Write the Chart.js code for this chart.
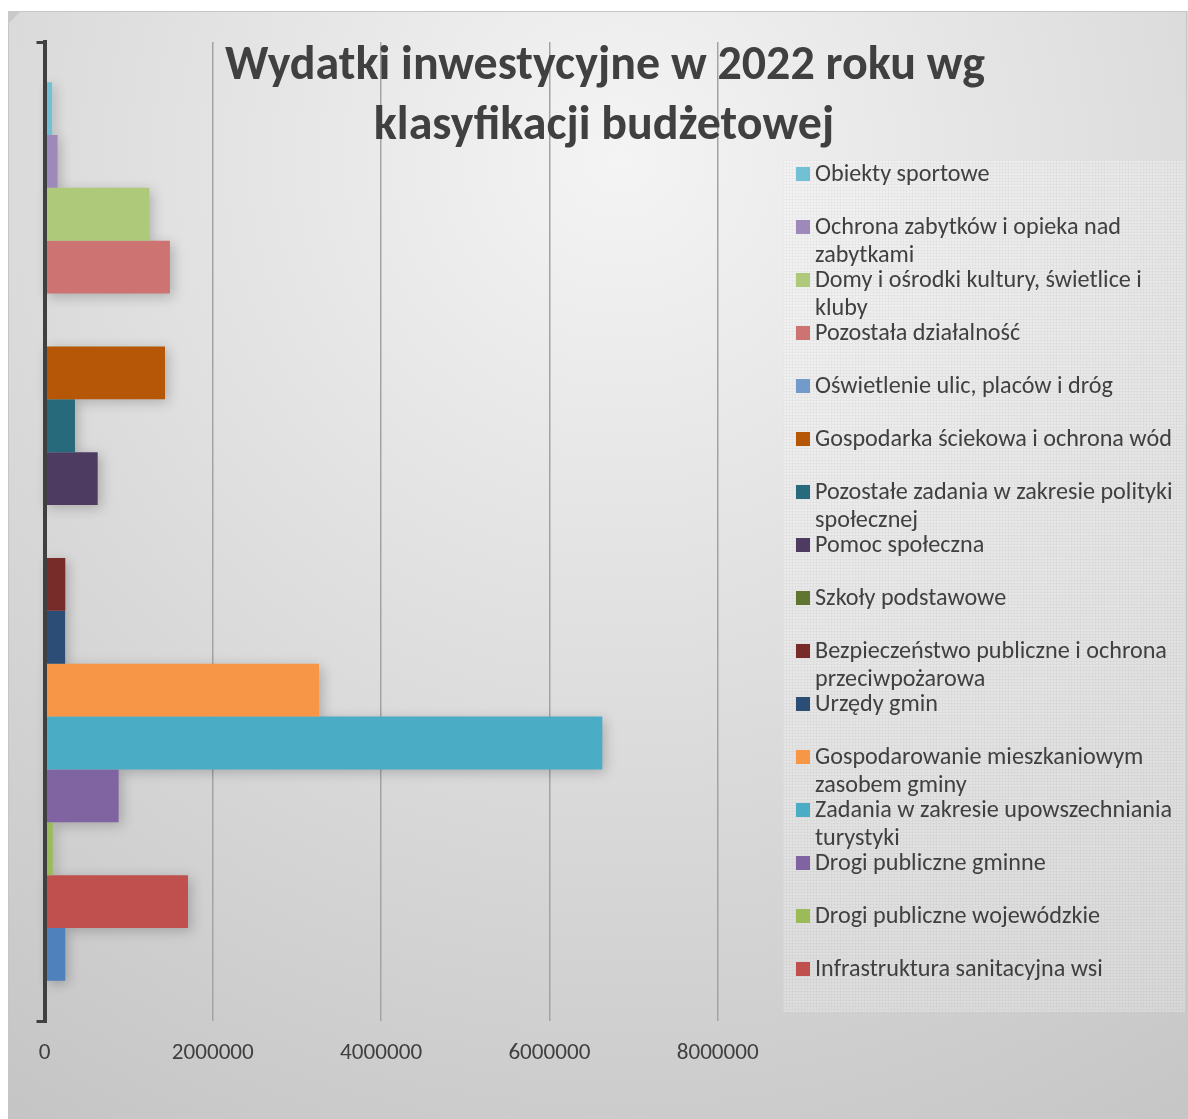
<!DOCTYPE html>
<html>
<head>
<meta charset="utf-8">
<script src="https://cdn.jsdelivr.net/npm/chart.js@4.4.1/dist/chart.umd.min.js"></script>
<style>
html, body { margin: 0; padding: 0; background: #fff; }
canvas { display: block; }
</style>
</head>
<body>
<canvas id="wykres" width="1188" height="1119"></canvas>
<script>
// Dane: pozycje klasyfikacji budżetowej (od góry wykresu w dół)
const categories = ['2022'];
const seriesNames = [
    'Obiekty sportowe',
    'Ochrona zabytków i opieka nad zabytkami',
    'Domy i ośrodki kultury, świetlice i kluby',
    'Pozostała działalność',
    'Oświetlenie ulic, placów i dróg',
    'Gospodarka ściekowa i ochrona wód',
    'Pozostałe zadania w zakresie polityki społecznej',
    'Pomoc społeczna',
    'Szkoły podstawowe',
    'Bezpieczeństwo publiczne i ochrona przeciwpożarowa',
    'Urzędy gmin',
    'Gospodarowanie mieszkaniowym zasobem gminy',
    'Zadania w zakresie upowszechniania turystyki',
    'Drogi publiczne gminne',
    'Drogi publiczne wojewódzkie',
    'Infrastruktura sanitacyjna wsi',
    'Infrastruktura wodociągowa wsi'
];
const seriesValues = [
    90000, 155000, 1245000, 1490000, 0, 1432000, 362000, 632000, 0,
    247000, 245000, 3262000, 6629000, 881000, 97000, 1705000, 247000
];
const seriesColors = [
    '#71C0D3', '#9E89BB', '#AFC97A', '#CD7371', '#729ACA', '#B65708',
    '#276A7C', '#4D3B62', '#5F7530', '#772C2A', '#2C4D75', '#F79646',
    '#4BACC6', '#8064A2', '#9BBB59', '#C0504D', '#4F81BD'
];
const legendCount = 16; // ostatnia seria nie zmieściła się w legendzie
const xTickValues = [0, 2000000, 4000000, 6000000, 8000000];
const titleLines = ['Wydatki inwestycyjne w 2022 roku wg', 'klasyfikacji budżetowej'];

const FONT = 'Carlito, Lato, sans-serif';
const TEXT_COLOR = '#404040';

// dobór rozmiaru czcionki tak, aby szerokość tekstu pasowała do oryginału
const measureCtx = document.createElement('canvas').getContext('2d');
function fitSize(text, weight, targetWidth) {
    measureCtx.font = weight + ' 100px ' + FONT;
    return 100 * targetWidth / measureCtx.measureText(text).width;
}
const tickSize = fitSize('2000000', 'normal', 82);
const legendSize = fitSize('Gospodarka ściekowa i ochrona wód', 'normal', 357);
const titleSize = fitSize(titleLines[0], 'bold', 760);

function wrapText(ctx, text, maxWidth) {
    const words = text.split(' ');
    const lines = [];
    let line = '';
    words.forEach(function (w) {
        const test = line ? line + ' ' + w : w;
        if (line && ctx.measureText(test).width > maxWidth) {
            lines.push(line);
            line = w;
        } else {
            line = test;
        }
    });
    lines.push(line);
    return lines;
}

// tło wykresu (gradient jak w Excelu)
const backgroundPlugin = {
    id: 'tlo',
    beforeDraw: function (chart) {
        const ctx = chart.ctx;
        const w = chart.width, h = chart.height;
        ctx.save();
        ctx.fillStyle = '#ffffff';
        ctx.fillRect(0, 0, w, h);
        const g = ctx.createRadialGradient(620, 160, 0, 620, 160, 1150);
        g.addColorStop(0, '#f4f4f4');
        g.addColorStop(1, '#c4c4c4');
        ctx.fillStyle = g;
        ctx.fillRect(8, 11, w - 8, h - 11);
        ctx.strokeStyle = '#c6c6c6';
        ctx.lineWidth = 1;
        ctx.strokeRect(8.5, 11.5, w - 10, h);
        // ścięty narożnik
        ctx.fillStyle = '#c9c9c9';
        ctx.beginPath();
        ctx.moveTo(8, 11);
        ctx.lineTo(21, 11);
        ctx.lineTo(8, 24);
        ctx.closePath();
        ctx.fill();
        // pole legendy
        ctx.fillStyle = 'rgba(255,255,255,0.28)';
        ctx.fillRect(783, 160, 402, 852);
        ctx.fillStyle = 'rgba(0,0,0,0.025)';
        for (let x = 783; x < 1185; x += 3) ctx.fillRect(x, 160, 1, 852);
        for (let y = 160; y < 1012; y += 3) ctx.fillRect(783, y, 402, 1);
        ctx.restore();
    }
};

// cień pod słupkami
const shadowPlugin = {
    id: 'cien',
    beforeDatasetsDraw: function (chart) {
        const ctx = chart.ctx;
        const off = 5000;
        chart.getSortedVisibleDatasetMetas().forEach(function (meta) {
            meta.data.forEach(function (bar) {
                const p = bar.getProps(['x', 'y', 'base', 'height'], true);
                const len = Math.abs(p.x - p.base);
                if (len < 0.5) return;
                ctx.save();
                ctx.shadowColor = 'rgba(0,0,0,0.22)';
                ctx.shadowBlur = 12;
                ctx.shadowOffsetX = off + 3;
                ctx.shadowOffsetY = 3;
                ctx.fillStyle = '#000';
                ctx.fillRect(Math.min(p.x, p.base) - off, p.y - p.height / 2, len, p.height);
                ctx.restore();
            });
        });
    }
};

// tytuł i legenda
const textPlugin = {
    id: 'teksty',
    afterDraw: function (chart) {
        const ctx = chart.ctx;
        ctx.save();
        ctx.fillStyle = TEXT_COLOR;
        ctx.font = 'bold ' + titleSize + 'px ' + FONT;
        ctx.textAlign = 'center';
        ctx.textBaseline = 'alphabetic';
        ctx.fillText(titleLines[0], 605, 79);
        ctx.fillText(titleLines[1], 604, 139);

        ctx.font = legendSize + 'px ' + FONT;
        ctx.textAlign = 'left';
        ctx.textBaseline = 'middle';
        for (let i = 0; i < legendCount; i++) {
            const cy = 174 + i * 53;
            ctx.fillStyle = seriesColors[i];
            ctx.fillRect(796, cy - 7, 14, 14);
            ctx.fillStyle = TEXT_COLOR;
            const lines = wrapText(ctx, seriesNames[i], 368);
            lines.forEach(function (ln, k) {
                ctx.fillText(ln, 815, cy + 1 + k * 28);
            });
        }
        ctx.restore();
    }
};

const datasets = seriesNames.map(function (name, i) {
    return {
        label: name,
        data: [seriesValues[i]],
        backgroundColor: seriesColors[i],
        borderWidth: 0,
        barPercentage: 1,
        categoryPercentage: 0.918
    };
});

new Chart(document.getElementById('wykres'), {
    type: 'bar',
    data: {
        labels: categories,
        datasets: datasets
    },
    options: {
        indexAxis: 'y',
        responsive: false,
        devicePixelRatio: 1,
        animation: false,
        layout: {
            padding: { left: 36.5, top: 42, right: 470.3, bottom: 0 }
        },
        scales: {
            x: {
                min: 0,
                max: 8000000,
                afterBuildTicks: function (scale) {
                    scale.ticks = xTickValues.map(function (v) { return { value: v }; });
                },
                afterFit: function (scale) { scale.height = 98; },
                ticks: {
                    color: TEXT_COLOR,
                    font: { family: FONT, size: tickSize },
                    padding: 18,
                    callback: function (v) { return String(v); }
                },
                grid: {
                    color: '#a3a3a3',
                    lineWidth: 1.5,
                    drawTicks: false
                },
                border: { display: false }
            },
            y: {
                afterFit: function (scale) { scale.width = 8; },
                ticks: { display: false },
                grid: {
                    drawOnChartArea: false,
                    drawTicks: true,
                    tickLength: 8,
                    color: '#404040',
                    lineWidth: 3
                },
                border: { display: true, color: '#404040', width: 4, z: 1 }
            }
        },
        plugins: {
            legend: { display: false },
            title: { display: false },
            tooltip: { enabled: false }
        }
    },
    plugins: [backgroundPlugin, shadowPlugin, textPlugin]
});
</script>
</body>
</html>
